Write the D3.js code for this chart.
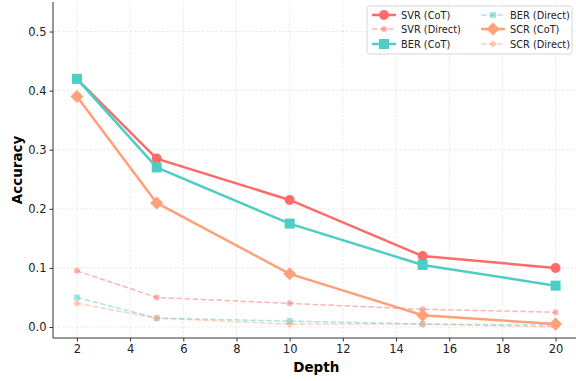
<!DOCTYPE html>
<html><head><meta charset="utf-8">
<script src="https://cdn.jsdelivr.net/npm/d3@7"></script>
<style>body{margin:0;background:#fff;overflow:hidden}svg{font-family:"DejaVu Sans",sans-serif}</style>
</head><body><svg id="c" width="576" height="381"></svg>
<script>
const depths = [2, 5, 10, 15, 20];
const svrCoT = [0.42, 0.285, 0.215, 0.12, 0.10];
const svrDirect = [0.095, 0.05, 0.04, 0.03, 0.025];
const berCoT = [0.42, 0.27, 0.175, 0.105, 0.07];
const berDirect = [0.05, 0.015, 0.01, 0.005, 0.003];
const scrCoT = [0.39, 0.21, 0.09, 0.02, 0.005];
const scrDirect = [0.04, 0.015, 0.005, 0.005, 0.0];
const xTicks = [2, 4, 6, 8, 10, 12, 14, 16, 18, 20];
const yTicks = [0.0, 0.1, 0.2, 0.3, 0.4, 0.5];

const series = [
  {name: "SVR (CoT)", v: svrCoT, color: "#FF6B6B", shape: "circle", cot: true},
  {name: "SVR (Direct)", v: svrDirect, color: "#FF6B6B", shape: "circle", cot: false},
  {name: "BER (CoT)", v: berCoT, color: "#4ECDC4", shape: "square", cot: true},
  {name: "BER (Direct)", v: berDirect, color: "#4ECDC4", shape: "square", cot: false},
  {name: "SCR (CoT)", v: scrCoT, color: "#FFA07A", shape: "diamond", cot: true},
  {name: "SCR (Direct)", v: scrDirect, color: "#FFA07A", shape: "diamond", cot: false}
];

const svg = d3.select("#c");
const L = 53, R = 579.5, T = 2, B = 338;
const x = d3.scaleLinear().domain([1.1, 20.9]).range([L, R]);
const y = d3.scaleLinear().domain([-0.0186, 0.55]).range([B, T]);

// grid
const g = svg.append("g");
g.selectAll(".gx").data(xTicks).enter().append("line")
  .attr("x1", d => x(d)).attr("x2", d => x(d)).attr("y1", T).attr("y2", B)
  .attr("stroke", "#b0b0b0").attr("stroke-opacity", 0.3).attr("stroke-width", 0.8).attr("stroke-dasharray", "3,1.5");
g.selectAll(".gy").data(yTicks).enter().append("line")
  .attr("x1", L).attr("x2", R).attr("y1", d => y(d)).attr("y2", d => y(d))
  .attr("stroke", "#b0b0b0").attr("stroke-opacity", 0.3).attr("stroke-width", 0.8).attr("stroke-dasharray", "3,1.5");

// axes
const xa = svg.append("g").attr("transform", `translate(0,${B})`)
  .call(d3.axisBottom(x).tickValues(xTicks).tickSize(3.5).tickPadding(3).tickFormat(d3.format("d")));
const ya = svg.append("g").attr("transform", `translate(${L},0)`)
  .call(d3.axisLeft(y).tickValues(yTicks).tickSize(3.5).tickPadding(3).tickFormat(d3.format(".1f")));
[xa, ya].forEach(a => {
  a.select(".domain").attr("stroke", "#333").attr("stroke-width", 1);
  a.selectAll(".tick line").attr("stroke", "#333");
  a.selectAll(".tick text").attr("font-size", 11.5).attr("fill", "#222").attr("font-family", "DejaVu Sans");
});
ya.select(".domain").attr("d", `M0,${B}V${T}`);
xa.select(".domain").attr("d", `M${L},0H${R}`);

svg.append("text").attr("x", (L + R) / 2).attr("y", 372).attr("text-anchor", "middle")
  .attr("font-size", 13.5).attr("font-weight", "bold").text("Depth");
svg.append("text").attr("transform", `translate(21.5,${(T + B) / 2}) rotate(-90)`).attr("text-anchor", "middle")
  .attr("font-size", 13.5).attr("font-weight", "bold").text("Accuracy");

function marker(sel, shape, cx, cy, cot, color, op) {
  const s = cot ? 1 : 0.6;
  if (shape === "circle") {
    sel.append("circle").attr("cx", cx).attr("cy", cy).attr("r", 5 * s).attr("fill", color).attr("fill-opacity", op);
  } else if (shape === "square") {
    const h = 5 * s;
    sel.append("rect").attr("x", cx - h).attr("y", cy - h).attr("width", 2 * h).attr("height", 2 * h).attr("fill", color).attr("fill-opacity", op);
  } else {
    const h = 6.5 * s;
    sel.append("path").attr("d", `M${cx},${cy - h}L${cx + h},${cy}L${cx},${cy + h}L${cx - h},${cy}Z`).attr("fill", color).attr("fill-opacity", op);
  }
}

const line = d3.line().x((d, i) => x(depths[i])).y(d => y(d));
const order = [1, 3, 5, 0, 2, 4];
order.forEach(k => {
  const s = series[k];
  const gg = svg.append("g");
  const op = s.cot ? 1 : 0.5;
  gg.append("path").datum(s.v).attr("d", line).attr("fill", "none").attr("stroke", s.color)
    .attr("stroke-width", s.cot ? 2.5 : 1.5).attr("stroke-opacity", op)
    .attr("stroke-dasharray", s.cot ? null : "5.5,2.5");
  s.v.forEach((v, i) => marker(gg, s.shape, x(depths[i]), y(v), s.cot, s.color, op));
});

// legend
const lg = svg.append("g");
lg.append("rect").attr("x", 367).attr("y", 6).attr("width", 205).attr("height", 48).attr("rx", 2.5)
  .attr("fill", "#fff").attr("fill-opacity", 0.8).attr("stroke", "#ccc").attr("stroke-width", 0.8);
const legendPos = [[370, 15], [370, 29], [370, 44], [479, 15], [479, 29], [479, 44]];
series.forEach((s, i) => {
  const [lx, ly] = legendPos[i];
  const op = s.cot ? 1 : 0.5;
  lg.append("line").attr("x1", lx + 2).attr("x2", lx + 26).attr("y1", ly).attr("y2", ly)
    .attr("stroke", s.color).attr("stroke-width", s.cot ? 2.5 : 1.5).attr("stroke-opacity", op)
    .attr("stroke-dasharray", s.cot ? null : "5.5,2.5");
  marker(lg, s.shape, lx + 14, ly, s.cot, s.color, op);
  lg.append("text").attr("x", lx + 31).attr("y", ly + 3.5).attr("font-size", 9.8).attr("fill", "#222").text(s.name);
});
</script></body></html>
